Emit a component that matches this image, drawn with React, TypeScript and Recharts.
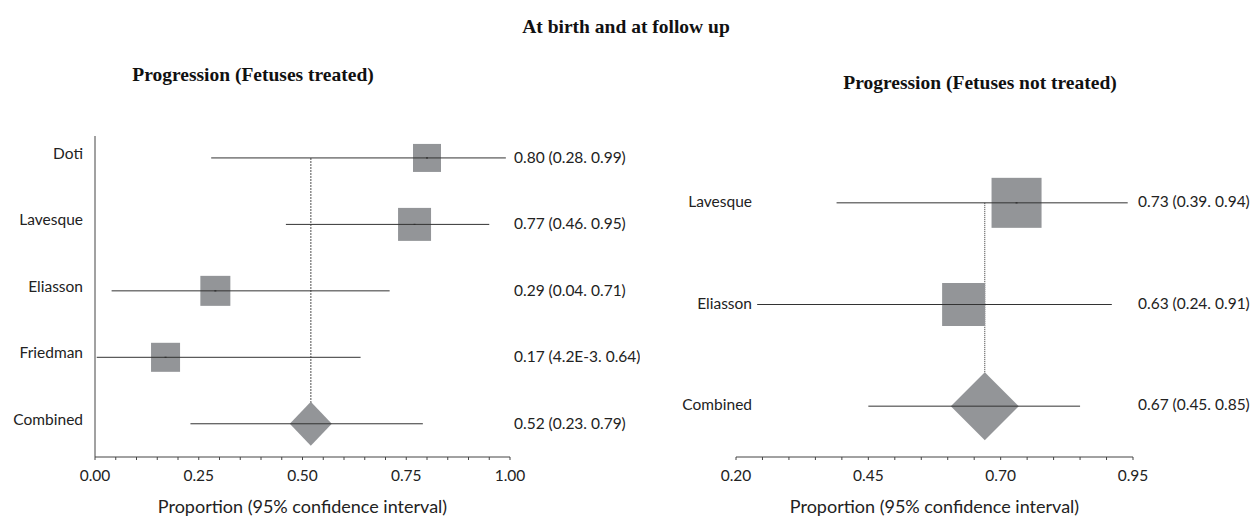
import React from 'react';
import { ScatterChart, Scatter, XAxis, YAxis, ZAxis, ReferenceLine } from 'recharts';

// Progression, fetuses treated
const treatedStudies = ['Doti', 'Lavesque', 'Eliasson', 'Friedman'];
const treatedEst = [0.8, 0.77, 0.29, 0.17];
const treatedLow = [0.28, 0.46, 0.04, 0.0042];
const treatedHigh = [0.99, 0.95, 0.71, 0.64];
const treatedWeight = [21.7, 30.1, 24.9, 23.3]; // % weight
const treatedCombined = [0.52, 0.23, 0.79]; // estimate, low, high
const treatedTicks = [0, 0.05, 0.1, 0.15, 0.2, 0.25, 0.3, 0.35, 0.4, 0.45, 0.5, 0.55, 0.6, 0.65, 0.7, 0.75, 0.8, 0.85, 0.9, 0.95, 1];
const treatedTickLabels = [0, 0.25, 0.5, 0.75, 1];

// Progression, fetuses not treated
const untreatedStudies = ['Lavesque', 'Eliasson'];
const untreatedEst = [0.73, 0.63];
const untreatedLow = [0.39, 0.24];
const untreatedHigh = [0.94, 0.91];
const untreatedWeight = [57.5, 42.5];
const untreatedCombined = [0.67, 0.45, 0.85];
const untreatedTicks = [0.2, 0.25, 0.3, 0.35, 0.4, 0.45, 0.5, 0.55, 0.6, 0.65, 0.7, 0.75, 0.8, 0.85, 0.9, 0.95];
const untreatedTickLabels = [0.2, 0.45, 0.7, 0.95];

const BOX = '#939598';
const INK = '#333';
const FONT = 'Lato, "Noto Sans", sans-serif';
const TXT = 15.5;

const fmt = (v: number) => (v < 0.01 ? v.toExponential(1).toUpperCase() : v.toFixed(2));

const WeightBox = (p: any) => {
  const s = p.size != null ? Math.sqrt(p.size) : p.width * 0.886;
  return (
    <g>
      <rect x={p.cx - s / 2} y={p.cy - s / 2} width={s} height={s} fill={BOX} />
      <rect x={p.cx - 1} y={p.cy - 0.5} width={2} height={1} fill="#111" />
    </g>
  );
};

const Empty = () => <g />;

const makeDiamond = (hw: number, hh: number) => (p: any) => (
  <polygon
    points={`${p.cx - hw},${p.cy} ${p.cx},${p.cy - hh} ${p.cx + hw},${p.cy} ${p.cx},${p.cy + hh}`}
    fill={BOX}
  />
);

interface PanelProps {
  studies: string[];
  est: number[];
  low: number[];
  high: number[];
  weight: number[];
  combined: number[];
  ticks: number[];
  tickLabels: number[];
  xDomain: [number, number];
  yDomain: [number, number];
  width: number;
  top: number;
  leftAxisW: number;
  rightAxisW: number;
  boxArea: number;
  diamond: [number, number];
  nameDx: number;
  nameDy: number;
  valueDx: number;
  valueDy: number;
  showYLine: boolean;
  dotColor: string;
  dotWidth: number;
  dotDash: string;
}

function ForestPanel(props: PanelProps) {
  const { studies, est, low, high, weight, combined } = props;
  const n = studies.length;
  const boxes = studies.map((s, i) => ({ row: n - i + 1, est: est[i], weight: weight[i] }));
  const pooled = [{ row: 1, est: combined[0] }];
  const rows = [...boxes.map((b) => b.row), 1];
  const nameOf = (r: number) => (r === 1 ? 'Combined' : studies[n + 1 - r]);
  const textOf = (r: number) => {
    if (r === 1) return `${fmt(combined[0])} (${fmt(combined[1])}. ${fmt(combined[2])})`;
    const i = n + 1 - r;
    return `${fmt(est[i])} (${fmt(low[i])}. ${fmt(high[i])})`;
  };
  const isLabel = (v: number) => props.tickLabels.some((t) => Math.abs(t - v) < 1e-6);

  return (
    <ScatterChart
      width={props.width}
      height={517}
      margin={{ top: props.top, right: 0, bottom: 0, left: 0 }}
      style={{ fontFamily: FONT }}
    >
      <XAxis
        type="number"
        dataKey="est"
        domain={props.xDomain}
        ticks={props.ticks}
        interval={0}
        height={60}
        stroke="#444"
        tickSize={3}
        tickMargin={0}
        tick={(t: any) => (
          <text x={t.x} y={t.y + 15} textAnchor="middle" dominantBaseline="central" fontSize={TXT} fill="#222" fontFamily={FONT}>
            {isLabel(t.payload.value) ? t.payload.value.toFixed(2) : ''}
          </text>
        )}
        label={{ value: 'Proportion (95% confidence interval)', position: 'insideBottom', offset: 4, fontSize: 18, fill: '#222' }}
      />
      <YAxis
        yAxisId="l"
        type="number"
        dataKey="row"
        domain={props.yDomain}
        ticks={rows}
        interval={0}
        width={props.leftAxisW}
        axisLine={props.showYLine ? { stroke: '#444' } : false}
        tickLine={false}
        tickSize={0}
        tickMargin={0}
        tick={(t: any) => (
          <text x={t.x + props.nameDx} y={t.y + props.nameDy} textAnchor="end" dominantBaseline="central" fontSize={TXT} fill="#222" fontFamily={FONT}>
            {nameOf(t.payload.value)}
          </text>
        )}
      />
      <YAxis
        yAxisId="r"
        orientation="right"
        type="number"
        dataKey="row"
        domain={props.yDomain}
        ticks={rows}
        interval={0}
        width={props.rightAxisW}
        axisLine={false}
        tickLine={false}
        tickSize={0}
        tickMargin={0}
        tick={(t: any) => (
          <text x={t.x + props.valueDx} y={t.y + props.valueDy} textAnchor="start" dominantBaseline="central" fontSize={TXT} fill="#222" fontFamily={FONT}>
            {textOf(t.payload.value)}
          </text>
        )}
      />
      <ZAxis dataKey="weight" domain={[0, 100]} range={[0, props.boxArea]} />
      <ReferenceLine
        yAxisId="l"
        segment={[{ x: combined[0], y: n + 1 }, { x: combined[0], y: 1 }]}
        stroke={props.dotColor}
        strokeWidth={props.dotWidth}
        strokeDasharray={props.dotDash}
        zIndex={500}
      />
      <Scatter yAxisId="r" data={[...boxes, ...pooled]} shape={Empty} isAnimationActive={false} />
      <Scatter yAxisId="l" data={boxes} shape={WeightBox} isAnimationActive={false} />
      <Scatter yAxisId="l" data={pooled} shape={makeDiamond(props.diamond[0], props.diamond[1])} isAnimationActive={false} />
      {boxes.map((b, i) => (
        <ReferenceLine
          key={b.row}
          yAxisId="l"
          segment={[{ x: low[i], y: b.row }, { x: high[i], y: b.row }]}
          stroke={INK}
          zIndex={700}
        />
      ))}
      <ReferenceLine
        yAxisId="l"
        segment={[{ x: combined[1], y: 1 }, { x: combined[2], y: 1 }]}
        stroke={INK}
        zIndex={700}
      />
    </ScatterChart>
  );
}

const titleStyle: React.CSSProperties = {
  position: 'absolute',
  fontFamily: '"Liberation Serif", "DejaVu Serif", serif',
  fontWeight: 'bold',
  fontSize: 19.5,
  color: '#111',
  textAlign: 'center',
  whiteSpace: 'nowrap',
  transform: 'translate(-50%, -50%)',
};

export default function App() {
  return (
    <div style={{ position: 'absolute', left: 0, top: 0, width: 1252, height: 517, background: '#fff', overflow: 'hidden' }}>
      <div style={{ ...titleStyle, left: 626, top: 27 }}>At birth and at follow up</div>
      <div style={{ ...titleStyle, left: 253, top: 75 }}>Progression (Fetuses treated)</div>
      <div style={{ ...titleStyle, left: 980, top: 83 }}>Progression (Fetuses not treated)</div>
      <div style={{ position: 'absolute', left: 0, top: 0 }}>
        <ForestPanel
          studies={treatedStudies}
          est={treatedEst}
          low={treatedLow}
          high={treatedHigh}
          weight={treatedWeight}
          combined={treatedCombined}
          ticks={treatedTicks}
          tickLabels={treatedTickLabels}
          xDomain={[0, 1]}
          yDomain={[0.5, 5.33]}
          width={640}
          top={136}
          leftAxisW={95}
          rightAxisW={130}
          boxArea={3614}
          diamond={[21, 22]}
          nameDx={-12}
          nameDy={-5}
          valueDx={4}
          valueDy={-1}
          showYLine={true}
          dotColor="#8a8a8a"
          dotWidth={1.5}
          dotDash="2 1"
        />
      </div>
      <div style={{ position: 'absolute', left: 640, top: 0 }}>
        <ForestPanel
          studies={untreatedStudies}
          est={untreatedEst}
          low={untreatedLow}
          high={untreatedHigh}
          weight={untreatedWeight}
          combined={untreatedCombined}
          ticks={untreatedTicks}
          tickLabels={untreatedTickLabels}
          xDomain={[0.2, 0.95]}
          yDomain={[0.5, 3.5]}
          width={612}
          top={152}
          leftAxisW={96}
          rightAxisW={119}
          boxArea={4349}
          diamond={[34, 34]}
          nameDx={16}
          nameDy={-2}
          valueDx={5}
          valueDy={-2}
          showYLine={false}
          dotColor="#333"
          dotWidth={1}
          dotDash="1 1"
        />
      </div>
    </div>
  );
}
